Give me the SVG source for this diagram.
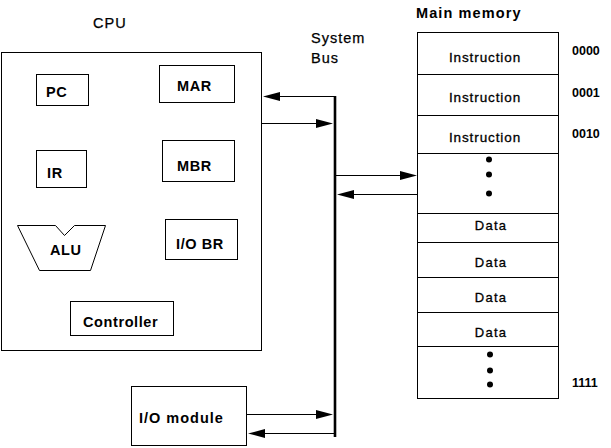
<svg xmlns="http://www.w3.org/2000/svg" width="611" height="448" viewBox="0 0 611 448">
<defs>
<style>
.box{fill:#fff;stroke:#000;stroke-width:1}
.ln{fill:none;stroke:#000;stroke-width:1}
.bus{fill:none;stroke:#000;stroke-width:2.6}
.ah{fill:#000;stroke:none}
.t{font-family:"Liberation Sans",Arial,sans-serif;fill:#000}
.title{font-size:14.5px;letter-spacing:1px;stroke:#000;stroke-width:0.25}
.lbl{font-size:14.5px;font-weight:bold;letter-spacing:0.6px}
.mem{font-size:13.5px;letter-spacing:0.9px;stroke:#000;stroke-width:0.3}
.data{font-size:13px;letter-spacing:1.2px;stroke:#000;stroke-width:0.3}
.addr{font-size:12.5px;font-weight:bold}
.dot{fill:#000}
</style>
</defs>
<rect width="611" height="448" fill="#fff"/>

<g id="labels">
<text class="t title" x="93" y="28">CPU</text>
<text class="t title" x="311" y="43">System</text>
<text class="t title" x="311" y="63">Bus</text>
<text class="t title" x="416" y="18" style="font-weight:bold;letter-spacing:1.1px;stroke-width:0">Main memory</text>
</g>

<g id="cpu">
<rect class="box" x="1.5" y="52.5" width="260" height="298"/>
</g>
<g id="pc"><rect class="box" x="36.5" y="74.5" width="52" height="31"/><text class="t lbl" x="46" y="97">PC</text></g>
<g id="mar"><rect class="box" x="159.5" y="65.5" width="75" height="37"/><text class="t lbl" x="177" y="91">MAR</text></g>
<g id="ir"><rect class="box" x="36.5" y="150.5" width="50" height="37"/><text class="t lbl" x="47" y="178">IR</text></g>
<g id="mbr"><rect class="box" x="162.5" y="140.5" width="72" height="41"/><text class="t lbl" x="177" y="171">MBR</text></g>
<g id="alu"><polygon class="box" points="17.5,225.5 55.5,225.5 64.5,235.5 74.5,225.5 105.5,225.5 90.5,270.5 39.5,270.5"/><text class="t lbl" x="50" y="255">ALU</text></g>
<g id="iobr"><rect class="box" x="165.5" y="219.5" width="72" height="40"/><text class="t lbl" x="176" y="249">I/O BR</text></g>
<g id="controller"><rect class="box" x="70.5" y="301.5" width="103" height="34"/><text class="t lbl" x="83" y="327">Controller</text></g>
<g id="iomodule"><rect class="box" x="131.5" y="386.5" width="115" height="59"/><text class="t lbl" x="139" y="423" style="letter-spacing:1px">I/O module</text></g>

<g id="memory">
<rect class="box" x="417.5" y="32.5" width="141" height="366"/>
<path class="ln" d="M417.5 74.5H558.5M417.5 115.5H558.5M417.5 153.5H558.5M417.5 213.5H558.5M417.5 242.5H558.5M417.5 277.5H558.5M417.5 312.5H558.5M417.5 346.5H558.5"/>
<g class="t mem" text-anchor="middle">
<text x="485" y="62">Instruction</text>
<text x="485" y="102">Instruction</text>
<text x="485" y="142">Instruction</text>
</g>
<g class="t data" text-anchor="middle">
<text x="491" y="230">Data</text>
<text x="491" y="267">Data</text>
<text x="491" y="302">Data</text>
<text x="491" y="337">Data</text>
</g>
<circle class="dot" cx="489" cy="159.5" r="3"/>
<circle class="dot" cx="489" cy="174.5" r="3"/>
<circle class="dot" cx="489" cy="193.5" r="3"/>
<circle class="dot" cx="490" cy="354.5" r="3"/>
<circle class="dot" cx="490" cy="370.5" r="3"/>
<circle class="dot" cx="490" cy="384.5" r="3"/>
<g class="t addr">
<text x="572" y="55">0000</text>
<text x="572" y="97">0001</text>
<text x="572" y="138">0010</text>
<text x="572" y="387">1111</text>
</g>
</g>

<g id="connectors">
<line class="bus" x1="335" y1="96" x2="335" y2="437"/>
<path class="ln" d="M335 96.5H270M262 123.5H325M336 175.5H409M417 194.5H345M247 414.5H325M335 433.5H256"/>
<polygon class="ah" points="263,96.5 280,92 280,101"/>
<polygon class="ah" points="333,123.5 316,119 316,128"/>
<polygon class="ah" points="417,175.5 400,171 400,180"/>
<polygon class="ah" points="337,194.5 354,190 354,199"/>
<polygon class="ah" points="333,414.5 316,410 316,419"/>
<polygon class="ah" points="248,433.5 265,429 265,438"/>
</g>
</svg>
